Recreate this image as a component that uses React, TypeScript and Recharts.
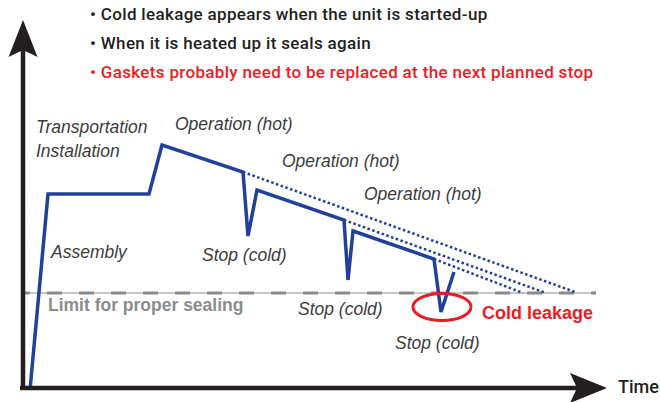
import React from 'react';
import { LineChart, Line, XAxis, YAxis, ReferenceLine, ReferenceDot } from 'recharts';

// Time (px-like units from the origin) and sealing force (units above the time axis)
const mainTime = [7, 25, 126, 139, 220, 225, 234, 321, 325, 330, 411, 418, 431];
const mainSeal = [-2, 194, 194, 243, 216, 152, 198, 168, 108, 157, 129, 76, 116];

const projA_time = [220, 552];
const projA_seal = [216, 96];
const projB_time = [321, 523];
const projB_seal = [168, 95];
const projC_time = [411, 500];
const projC_seal = [129, 95];

const limitSeal = 95;
const limitStart = 0;
const limitEnd = 573;

const leakTime = 419;
const leakSeal = 81;

const yAxisTop = 368;
const xAxisEnd = 584;

const labelTexts = [
  '• Cold leakage appears when the unit is started-up',
  '• When it is heated up it seals again',
  '• Gaskets probably need to be replaced at the next planned stop',
  'Transportation',
  'Installation',
  'Operation (hot)',
  'Operation (hot)',
  'Operation (hot)',
  'Assembly',
  'Stop (cold)',
  'Stop (cold)',
  'Stop (cold)',
  'Limit for proper sealing',
  'Cold leakage',
  'Time',
];
const labelTime = [67, 67, 67, 13, 13, 152, 259, 341, 28, 179, 275, 372, 25, 459, 595];
const labelSeal = [368, 339, 310, 255, 231, 258, 221, 188, 130, 127, 73, 39, 77, 69, -5];
const labelKind = ['head', 'head', 'headRed', 'it', 'it', 'it', 'it', 'it', 'it', 'it', 'it', 'it', 'limit', 'leak', 'time'];

const mainData = mainTime.map((t, i) => ({ t, v: mainSeal[i] }));
const mk = (ts: number[], vs: number[]) => ts.map((t, i) => ({ t, v: vs[i] }));
const projA = mk(projA_time, projA_seal);
const projB = mk(projB_time, projB_seal);
const projC = mk(projC_time, projC_seal);

const styles: Record<string, any> = {
  head: { fontFamily: 'Roboto, "Liberation Sans", sans-serif', fontWeight: 500, fontSize: 17, letterSpacing: 0.33, fill: '#231f20' },
  headRed: { fontFamily: 'Roboto, "Liberation Sans", sans-serif', fontWeight: 500, fontSize: 17, letterSpacing: 0.33, fill: '#ed1c24' },
  it: { fontFamily: '"Liberation Sans", sans-serif', fontStyle: 'italic', fontSize: 17.5, fill: '#3c3c3c' },
  limit: { fontFamily: '"Liberation Sans", sans-serif', fontWeight: 700, fontSize: 17.5, fill: '#8c8c8c' },
  leak: { fontFamily: '"Liberation Sans", sans-serif', fontWeight: 700, fontSize: 18, fill: '#ed1c24' },
  time: { fontFamily: 'Roboto, "Liberation Sans", sans-serif', fontWeight: 500, fontSize: 18, fill: '#231f20' },
};

const BLUE = '#21409a';
const AXIS = '#231f20';

export default function App() {
  return (
    <div style={{ position: 'absolute', left: 0, top: 0, width: 660, height: 402, background: '#fff' }}>
      <LineChart width={660} height={402} margin={{ top: 0, right: 0, bottom: 0, left: 0 }}>
        <XAxis type="number" dataKey="t" domain={[-23, 637]} hide allowDataOverflow />
        <YAxis type="number" dataKey="v" domain={[-14, 388]} hide allowDataOverflow />
        <ReferenceLine
          segment={[{ x: limitStart, y: limitSeal }, { x: limitEnd, y: limitSeal }]}
          stroke="#b4b4b4"
          strokeWidth={1.5}
        />
        <ReferenceLine
          segment={[{ x: limitStart, y: limitSeal }, { x: limitEnd, y: limitSeal }]}
          stroke="#8a8a8a"
          strokeWidth={3}
          strokeDasharray="15 17"
          strokeDashoffset={-24}
        />
        <Line data={projA} dataKey="v" type="linear" stroke={BLUE} strokeWidth={2.5} strokeDasharray="2.5 2.5" dot={false} activeDot={false} isAnimationActive={false} />
        <Line data={projB} dataKey="v" type="linear" stroke={BLUE} strokeWidth={2.5} strokeDasharray="2.5 2.5" dot={false} activeDot={false} isAnimationActive={false} />
        <Line data={projC} dataKey="v" type="linear" stroke={BLUE} strokeWidth={2.5} strokeDasharray="2.5 2.5" dot={false} activeDot={false} isAnimationActive={false} />
        <Line data={mainData} dataKey="v" type="linear" stroke={BLUE} strokeWidth={3.5} dot={false} activeDot={false} isAnimationActive={false} />
        <ReferenceDot
          x={leakTime}
          y={leakSeal}
          r={1}
          shape={(p: any) => (
            <ellipse cx={p.cx} cy={p.cy} rx={29} ry={13.5} fill="none" stroke="#ed1c24" strokeWidth={3} />
          )}
        />
        <ReferenceLine segment={[{ x: 0, y: -2 }, { x: 0, y: yAxisTop - 28 }]} stroke={AXIS} strokeWidth={4.5} />
        <ReferenceLine segment={[{ x: -3, y: 0 }, { x: xAxisEnd - 28, y: 0 }]} stroke={AXIS} strokeWidth={4.5} />
        <ReferenceDot
          x={0}
          y={yAxisTop}
          r={1}
          shape={(p: any) => (
            <path d={`M${p.cx},${p.cy} L${p.cx + 14.5},${p.cy + 37} L${p.cx},${p.cy + 30} L${p.cx - 14.5},${p.cy + 37} Z`} fill={AXIS} />
          )}
        />
        <ReferenceDot
          x={xAxisEnd}
          y={0}
          r={1}
          shape={(p: any) => (
            <path d={`M${p.cx},${p.cy} L${p.cx - 37},${p.cy - 15} L${p.cx - 30},${p.cy} L${p.cx - 37},${p.cy + 15} Z`} fill={AXIS} />
          )}
        />
        {labelTexts.map((txt, i) => (
          <ReferenceDot
            key={i}
            x={labelTime[i]}
            y={labelSeal[i]}
            r={1}
            shape={(p: any) => (
              <text x={p.cx} y={p.cy} style={styles[labelKind[i]]}>{txt}</text>
            )}
          />
        ))}
      </LineChart>
    </div>
  );
}
